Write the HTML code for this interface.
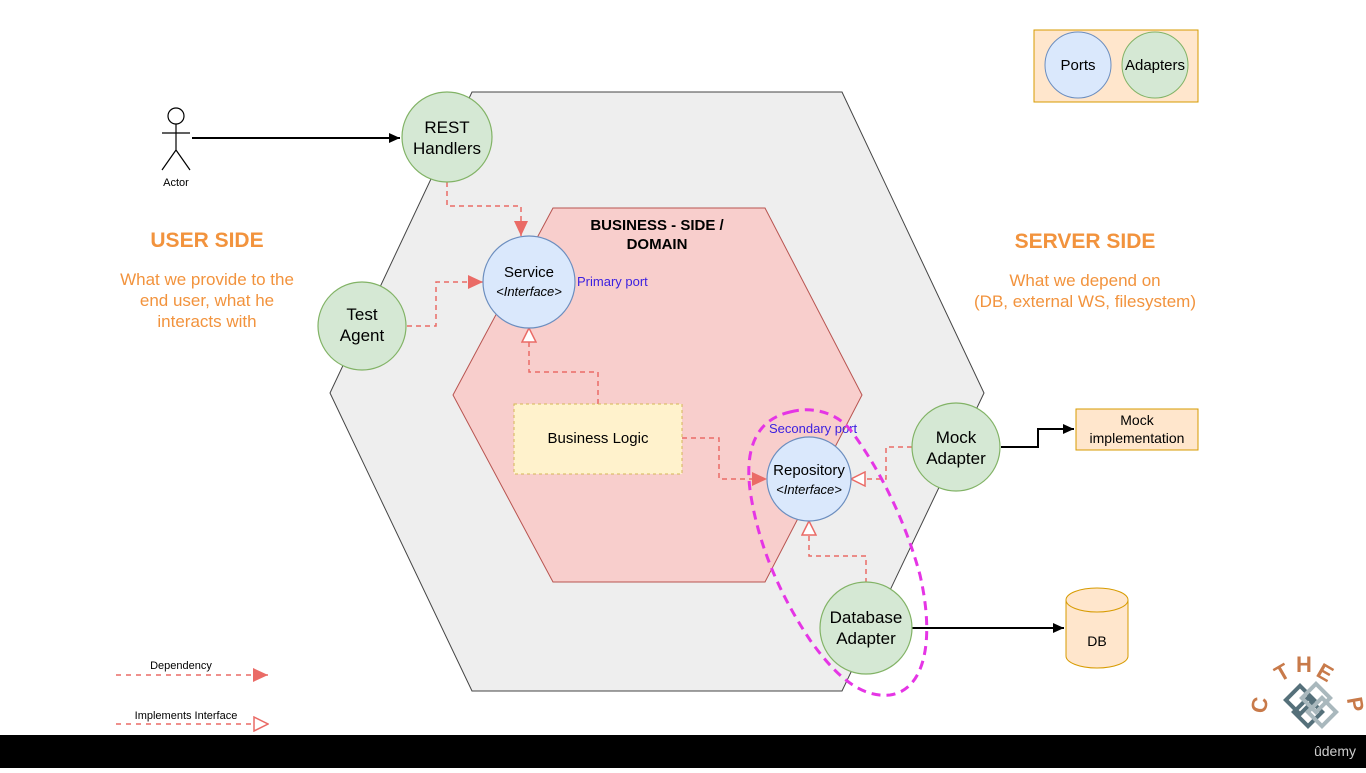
<!DOCTYPE html>
<html><head><style>
body{margin:0;background:#fff;width:1366px;height:768px;overflow:hidden;font-family:"Liberation Sans",sans-serif}
</style></head><body>
<svg width="1366" height="768" xmlns="http://www.w3.org/2000/svg" font-family="Liberation Sans, sans-serif">
<defs>
<marker id="f" markerWidth="16" markerHeight="16" refX="15" refY="8" orient="auto" markerUnits="userSpaceOnUse"><path d="M0,1 L15,8 L0,15 z" fill="#ea6b66"/></marker>
<marker id="o" markerWidth="16" markerHeight="16" refX="15" refY="8" orient="auto" markerUnits="userSpaceOnUse"><path d="M1,1 L15,8 L1,15 z" fill="#fff" stroke="#ea6b66" stroke-width="1.5"/></marker>
<marker id="b" markerWidth="12" markerHeight="12" refX="11" refY="6" orient="auto" markerUnits="userSpaceOnUse"><path d="M0,1 L11,6 L0,11 z" fill="#000"/></marker>
</defs>
<polygon points="472,92 842,92 984,393 842,691 472,691 330,393" fill="#eeeeee" stroke="#444" stroke-width="1"/>
<polygon points="553,208 765,208 862,395 765,582 553,582 453,395" fill="#f8cecc" stroke="#b85450" stroke-width="1"/>
<text x="657" y="230" text-anchor="middle" font-size="15" font-weight="bold">BUSINESS - SIDE /</text>
<text x="657" y="249" text-anchor="middle" font-size="15" font-weight="bold">DOMAIN</text>
<g fill="none" stroke="#ea6b66" stroke-width="1.5" stroke-dasharray="5,4">
<path d="M447,182 V206 H521 V236" marker-end="url(#f)"/>
<path d="M407,326 H436 V282 H483" marker-end="url(#f)"/>
<path d="M598,404 V372 H529 V328" marker-end="url(#o)"/>
<path d="M682,438 H719 V479 H767" marker-end="url(#f)"/>
<path d="M912,447 H886 V479 H851" marker-end="url(#o)"/>
<path d="M866,583 V556 H809 V521" marker-end="url(#o)"/>
<path d="M116,675 H268" marker-end="url(#f)" stroke-dasharray="5,5"/>
<path d="M116,724 H268" marker-end="url(#o)" stroke-dasharray="5,5"/>
</g>
<g fill="none" stroke="#000" stroke-width="2">
<path d="M192,138 H400" marker-end="url(#b)"/>
<path d="M1001,447 H1038 V429 H1074" marker-end="url(#b)"/>
<path d="M912,628 H1064" marker-end="url(#b)"/>
</g>
<rect x="514" y="404" width="168" height="70" fill="#fff2cc" stroke="#d6b656" stroke-dasharray="3,3"/>
<text x="598" y="443" text-anchor="middle" font-size="15">Business Logic</text>
<g stroke-width="1.2">
<circle cx="447" cy="137" r="45" fill="#d5e8d4" stroke="#82b366"/>
<circle cx="362" cy="326" r="44" fill="#d5e8d4" stroke="#82b366"/>
<circle cx="529" cy="282" r="46" fill="#dae8fc" stroke="#6c8ebf"/>
<circle cx="809" cy="479" r="42" fill="#dae8fc" stroke="#6c8ebf"/>
<circle cx="956" cy="447" r="44" fill="#d5e8d4" stroke="#82b366"/>
<circle cx="866" cy="628" r="46" fill="#d5e8d4" stroke="#82b366"/>
</g>
<g font-size="17" text-anchor="middle">
<text x="447" y="133">REST</text><text x="447" y="154">Handlers</text>
<text x="362" y="320">Test</text><text x="362" y="341">Agent</text>
<text x="956" y="443">Mock</text><text x="956" y="464">Adapter</text>
<text x="866" y="623">Database</text><text x="866" y="644">Adapter</text>
</g>
<g font-size="15" text-anchor="middle">
<text x="529" y="277">Service</text><text x="529" y="296" font-style="italic" font-size="13">&lt;Interface&gt;</text>
<text x="809" y="475">Repository</text><text x="809" y="494" font-style="italic" font-size="13">&lt;Interface&gt;</text>
</g>
<text x="577" y="286" font-size="13" fill="#3a1fe0">Primary port</text>
<text x="769" y="433" font-size="13" fill="#3a1fe0">Secondary port</text>
<path d="M790,412 C815,405 840,415 852,432 C880,470 905,520 920,575 C935,640 925,690 890,695 C860,698 835,675 810,640 C780,595 758,545 750,490 C745,450 755,420 790,412 Z" fill="none" stroke="#e535e5" stroke-width="3" stroke-dasharray="9,6"/>
<g stroke="#000" stroke-width="1.2" fill="none">
<circle cx="176" cy="116" r="8" fill="#fff"/>
<path d="M176,124 V150 M162,133 H190 M176,150 L162,170 M176,150 L190,170"/>
</g>
<text x="176" y="186" text-anchor="middle" font-size="11">Actor</text>
<g fill="#f2933d" text-anchor="middle">
<text x="207" y="247" font-size="21" font-weight="bold">USER SIDE</text>
<text x="207" y="285" font-size="17">What we provide to the</text>
<text x="207" y="306" font-size="17">end user, what he</text>
<text x="207" y="327" font-size="17">interacts with</text>
<text x="1085" y="248" font-size="21" font-weight="bold">SERVER SIDE</text>
<text x="1085" y="286" font-size="17">What we depend on</text>
<text x="1085" y="307" font-size="17">(DB, external WS, filesystem)</text>
</g>
<rect x="1034" y="30" width="164" height="72" fill="#ffe6cc" stroke="#d79b00"/>
<circle cx="1078" cy="65" r="33" fill="#dae8fc" stroke="#6c8ebf"/>
<circle cx="1155" cy="65" r="33" fill="#d5e8d4" stroke="#82b366"/>
<text x="1078" y="70" text-anchor="middle" font-size="15">Ports</text>
<text x="1155" y="70" text-anchor="middle" font-size="15">Adapters</text>
<rect x="1076" y="409" width="122" height="41" fill="#ffe6cc" stroke="#d79b00"/>
<text x="1137" y="425" text-anchor="middle" font-size="14">Mock</text>
<text x="1137" y="443" text-anchor="middle" font-size="14">implementation</text>
<path d="M1066,600 V656 A31,12 0 0 0 1128,656 V600 A31,12 0 0 0 1066,600 A31,12 0 0 0 1128,600" fill="#ffe6cc" stroke="#d79b00"/>
<text x="1097" y="646" text-anchor="middle" font-size="14">DB</text>
<text x="181" y="669" text-anchor="middle" font-size="11">Dependency</text>
<text x="186" y="719" text-anchor="middle" font-size="11">Implements Interface</text>
<g fill="#c87a4a" font-size="22" font-weight="bold">
<text x="1275" y="680" transform="rotate(-30 1282 672)">T</text>
<text x="1296" y="672">H</text>
<text x="1318" y="680" transform="rotate(30 1325 672)">E</text>
<text x="1252" y="712" transform="rotate(-80 1260 705)">C</text>
<text x="1347" y="712" transform="rotate(80 1355 705)">P</text>
</g>
<g fill="none" stroke="#55707a" stroke-width="4">
<rect x="1290" y="690" width="20" height="20" transform="rotate(45 1300 700)"/>
<rect x="1298" y="702" width="20" height="20" transform="rotate(45 1308 712)"/>
</g>
<g fill="none" stroke="#a9b8bd" stroke-width="4">
<rect x="1306" y="688" width="20" height="20" transform="rotate(45 1316 698)"/>
<rect x="1312" y="702" width="20" height="20" transform="rotate(45 1322 712)"/>
</g>
<rect x="0" y="735" width="1366" height="33" fill="#000"/>
<text x="1356" y="756" text-anchor="end" font-size="14" fill="#ccc">ûdemy</text>
</svg>
</body></html>
